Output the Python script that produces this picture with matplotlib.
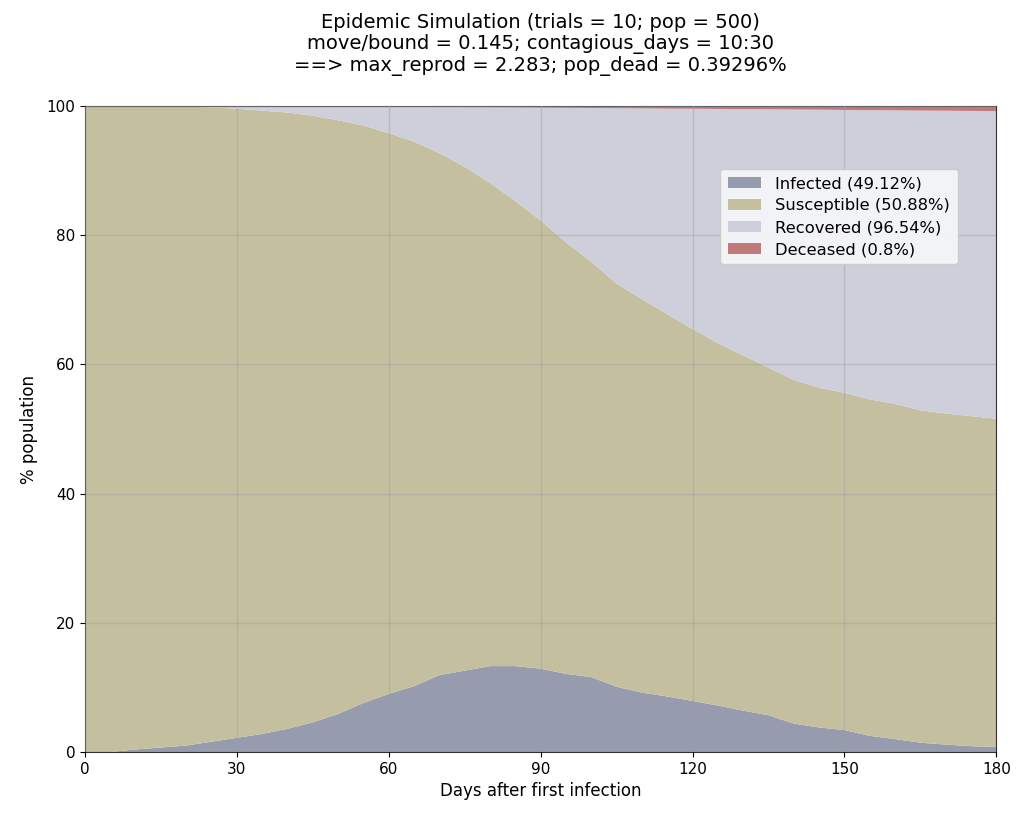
import matplotlib
matplotlib.use('Agg')
import matplotlib.pyplot as plt
import numpy as np

# values (percent of population, every 5 days)
days = [0, 5, 10, 15, 20, 25, 30, 35, 40, 45, 50, 55, 60, 65, 70, 75, 80, 85,
        90, 95, 100, 105, 110, 115, 120, 125, 130, 135, 140, 145, 150, 155,
        160, 165, 170, 175, 180]
infected = [0, 0, 0.4, 0.7, 1.0, 1.6, 2.2, 2.8, 3.6, 4.6, 5.9, 7.6, 9.0, 10.2,
            11.9, 12.6, 13.3, 13.3, 12.9, 12.1, 11.6, 10.1, 9.2, 8.6, 7.9, 7.2,
            6.4, 5.7, 4.4, 3.8, 3.4, 2.5, 2.0, 1.45, 1.15, 0.9, 0.8]
susceptible = [100, 100, 99.6, 99.3, 98.9, 98.2, 97.4, 96.5, 95.4, 93.9, 91.9,
               89.4, 86.8, 84.3, 80.8, 78.0, 74.8, 72.0, 69.4, 66.8, 64.3, 62.4,
               60.9, 59.2, 57.6, 56.1, 55.0, 53.8, 53.2, 52.6, 52.2, 52.1, 51.9,
               51.45, 51.25, 51.1, 50.8]
deceased = [0, 0, 0, 0, 0, 0, 0, 0, 0, 0.02, 0.05, 0.08, 0.1, 0.12, 0.15, 0.18,
            0.2, 0.22, 0.25, 0.28, 0.3, 0.33, 0.36, 0.4, 0.42, 0.45, 0.48, 0.5,
            0.53, 0.56, 0.6, 0.63, 0.66, 0.7, 0.72, 0.75, 0.78]
labels = ['Infected (49.12%)', 'Susceptible (50.88%)', 'Recovered (96.54%)', 'Deceased (0.8%)']
colors = ['#969bad', '#c4bf9f', '#cfcfdb', '#c07a7a']

infected = np.array(infected)
susceptible = np.array(susceptible)
deceased = np.array(deceased)
recovered = 100 - infected - susceptible - deceased

fig = plt.figure(figsize=(10.24, 8.16), dpi=100)
ax = fig.add_axes([0.083, 0.0784, 0.89, 0.7916])

ax.stackplot(days, infected, susceptible, recovered, deceased,
             labels=labels, colors=colors, linewidth=0)

ax.set_xlim(0, 180)
ax.set_ylim(0, 100)
ax.set_xticks(range(0, 181, 30))
ax.set_yticks(range(0, 101, 20))
ax.grid(True, color='#a0a0a0', alpha=0.45, linewidth=1)
ax.set_axisbelow(False)
for s in ax.spines.values():
    s.set_color('#333333')

ax.set_xlabel('Days after first infection', fontsize=12)
ax.set_ylabel('% population', fontsize=12, labelpad=6)
ax.tick_params(labelsize=11)
ax.set_title('Epidemic Simulation (trials = 10; pop = 500)\n'
             'move/bound = 0.145; contagious_days = 10:30\n'
             '==> max_reprod = 2.283; pop_dead = 0.39296%',
             fontsize=14, pad=25, linespacing=1.15)

leg = ax.legend(loc='upper right', bbox_to_anchor=(0.9575, 0.9025), borderaxespad=0,
                fontsize=11.8, labelspacing=0.42, borderpad=0.45, handletextpad=0.9,
                facecolor='#f5f6f8', framealpha=0.95)

fig.savefig('out.png', dpi=100)
